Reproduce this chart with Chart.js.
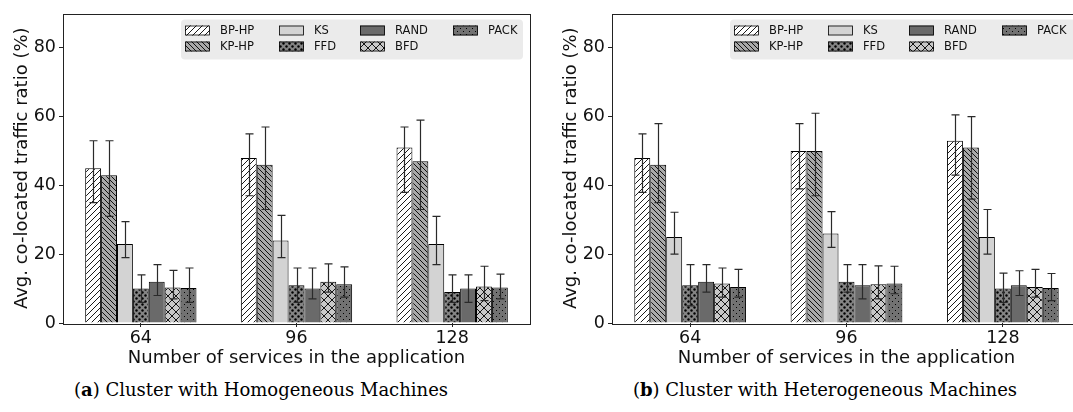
<!DOCTYPE html>
<html>
<head>
<meta charset="utf-8">
<script src="https://cdn.jsdelivr.net/npm/chart.js@4"></script>
<style>
  html, body { margin: 0; padding: 0; background: #fff; }
  body { width: 1073px; height: 412px; position: relative; overflow: hidden; }
  canvas { position: absolute; top: 0; }
  .cap { position: absolute; top: 379px; font-family: "DejaVu Serif", serif; font-size: 18px; color: #000; white-space: nowrap; transform: translateX(-50%); }
</style>
</head>
<body>
<canvas id="homo" width="536" height="372" style="left:0px"></canvas>
<canvas id="hetero" width="538" height="372" style="left:549px"></canvas>
<div class="cap" style="left:261px">(<b>a</b>) Cluster with Homogeneous Machines</div>
<div class="cap" style="left:825px">(<b>b</b>) Cluster with Heterogeneous Machines</div>
<script>
const categories = ['64', '96', '128'];
const seriesNames = ['BP-HP', 'KP-HP', 'KS', 'FFD', 'RAND', 'BFD', 'PACK'];
const yTicks = [0, 20, 40, 60, 80];

// rows follow seriesNames, columns follow categories
const homoMean = [
    [45, 48, 51],
    [43, 46, 47],
    [23, 24, 23],
    [10, 11, 9],
    [12, 10, 10],
    [10.3, 12, 10.6],
    [10.2, 11.3, 10.3]
];
const homoLow = [
    [35, 37, 38],
    [31, 33, 33],
    [19, 19, 17],
    [6, 6, 6],
    [8, 7, 6],
    [7, 9, 6.5],
    [6, 7.5, 7]
];
const homoHigh = [
    [53, 55, 57],
    [53, 57, 59],
    [29.5, 31.3, 31],
    [14, 16, 14],
    [17, 16, 14],
    [15.3, 17.2, 16.5],
    [16, 16.3, 14.2]
];

const heteroMean = [
    [48, 50, 53],
    [46, 50, 51],
    [25, 26, 25],
    [11, 12, 10],
    [12, 11, 11],
    [11.5, 11.3, 10.5],
    [10.5, 11.5, 10.2]
];
const heteroLow = [
    [38, 39, 43],
    [35, 37, 36],
    [20, 22, 20],
    [5, 9, 6],
    [9, 7, 8],
    [7.5, 7, 7.5],
    [7.5, 8.5, 6.5]
];
const heteroHigh = [
    [55, 58, 60.5],
    [58, 61, 60],
    [32.2, 32.4, 33],
    [17, 17, 14.5],
    [17, 17, 15.2],
    [16, 16.6, 15.6],
    [15.6, 16.5, 14.4]
];

const FONT = '"DejaVu Sans", sans-serif';

function makePattern(size, bg, drawFn) {
    const c = document.createElement('canvas');
    c.width = size;
    c.height = size;
    const g = c.getContext('2d');
    g.fillStyle = bg;
    g.fillRect(0, 0, size, size);
    g.strokeStyle = '#000';
    g.fillStyle = '#000';
    g.lineWidth = 0.9;
    drawFn(g, size);
    return g.createPattern(c, 'repeat');
}

function fills() {
    const fwd = makePattern(6, '#ffffff', (g, s) => {
        g.beginPath();
        g.moveTo(-1, s + 1); g.lineTo(s + 1, -1);
        g.moveTo(-1, 1); g.lineTo(1, -1);
        g.moveTo(s - 1, s + 1); g.lineTo(s + 1, s - 1);
        g.stroke();
    });
    const back = makePattern(5, '#a9a9a9', (g, s) => {
        g.beginPath();
        g.moveTo(-1, -1); g.lineTo(s + 1, s + 1);
        g.moveTo(s - 1, -1); g.lineTo(s + 1, 1);
        g.moveTo(-1, s - 1); g.lineTo(1, s + 1);
        g.stroke();
    });
    const bigDots = makePattern(6, '#848484', (g) => {
        g.beginPath(); g.arc(1.5, 1.5, 1.2, 0, Math.PI * 2); g.fill();
        g.beginPath(); g.arc(4.5, 4.5, 1.2, 0, Math.PI * 2); g.fill();
    });
    const cross = makePattern(8, '#c8c8c8', (g, s) => {
        g.beginPath();
        g.moveTo(0, 0); g.lineTo(s, s);
        g.moveTo(0, s); g.lineTo(s, 0);
        g.stroke();
    });
    const smallDots = makePattern(6, '#727272', (g) => {
        g.fillRect(1, 1, 1, 1);
        g.fillRect(4, 4, 1, 1);
    });
    return [fwd, back, '#d3d3d3', bigDots, '#6a6a6a', cross, smallDots];
}

const errorBars = {
    id: 'errorBars',
    afterDatasetsDraw(chart) {
        const ctx = chart.ctx;
        const y = chart.scales.y;
        ctx.save();
        ctx.strokeStyle = '#2a2a2a';
        ctx.lineWidth = 1.2;
        chart.data.datasets.forEach((ds, i) => {
            const meta = chart.getDatasetMeta(i);
            meta.data.forEach((bar, j) => {
                const lo = y.getPixelForValue(ds.errLow[j]);
                const hi = y.getPixelForValue(ds.errHigh[j]);
                const x = Math.round(bar.x) + 0.5;
                ctx.beginPath();
                ctx.moveTo(x, lo); ctx.lineTo(x, hi);
                ctx.moveTo(x - 4, lo); ctx.lineTo(x + 4, lo);
                ctx.moveTo(x - 4, hi); ctx.lineTo(x + 4, hi);
                ctx.stroke();
            });
        });
        ctx.restore();
    }
};

const frameAndLegend = {
    id: 'frameAndLegend',
    afterDraw(chart, args, opts) {
        const ctx = chart.ctx;
        const a = chart.chartArea;
        ctx.save();
        ctx.strokeStyle = '#222';
        ctx.lineWidth = 1;
        ctx.strokeRect(Math.round(a.left) + 0.5, Math.round(a.top) + 0.5,
            Math.round(a.right - a.left), Math.round(a.bottom - a.top));

        // legend box, column-major like matplotlib ncol=4
        const boxW = opts.boxWidth, boxH = 40;
        const bx = a.left + 118, by = a.top + 6;
        ctx.fillStyle = '#ebebeb';
        ctx.beginPath();
        ctx.roundRect(bx, by, boxW, boxH, 4);
        ctx.fill();
        const colX = [4, 98, 179, 272];
        const rowY = [11, 27];
        ctx.font = '11.5px ' + FONT;
        ctx.textBaseline = 'middle';
        chart.data.datasets.forEach((ds, i) => {
            const col = Math.floor(i / 2), row = i % 2;
            const sx = bx + colX[col], sy = by + rowY[row];
            ctx.fillStyle = ds.backgroundColor;
            ctx.fillRect(sx, sy - 5, 25, 10);
            ctx.strokeStyle = '#000';
            ctx.lineWidth = 0.8;
            ctx.strokeRect(sx + 0.5, sy - 4.5, 24, 9);
            ctx.fillStyle = '#111';
            ctx.fillText(ds.label, sx + 35, sy + 1);
        });
        ctx.restore();
    }
};

function buildChart(id, mean, low, high, legendWidth) {
    const canvas = document.getElementById(id);
    const pats = fills();
    return new Chart(canvas, {
        type: 'bar',
        data: {
            labels: categories,
            datasets: seriesNames.map((name, i) => ({
                label: name,
                data: mean[i],
                errLow: low[i],
                errHigh: high[i],
                backgroundColor: pats[i],
                borderColor: '#000',
                borderWidth: 1,
                categoryPercentage: 0.715,
                barPercentage: 1.0
            }))
        },
        options: {
            responsive: false,
            animation: false,
            devicePixelRatio: 1,
            layout: { padding: { top: 12, right: 6, left: 0, bottom: 0 } },
            plugins: {
                legend: { display: false },
                tooltip: { enabled: false },
                frameAndLegend: { boxWidth: legendWidth }
            },
            scales: {
                x: {
                    grid: { offset: false, drawOnChartArea: false, tickLength: 4, color: '#222' },
                    border: { display: false },
                    ticks: { color: '#111', font: { family: FONT, size: 17.5 }, padding: 1 },
                    title: {
                        display: true,
                        text: 'Number of services in the application',
                        color: '#111',
                        font: { family: FONT, size: 18 },
                        padding: { top: 0, bottom: 3 }
                    },
                    afterFit(scale) { scale.height = 49; }
                },
                y: {
                    min: 0,
                    max: 90,
                    afterBuildTicks(scale) { scale.ticks = yTicks.map(v => ({ value: v })); },
                    grid: { drawOnChartArea: false, tickLength: 4, color: '#222' },
                    border: { display: false },
                    ticks: { color: '#111', font: { family: FONT, size: 17.5 }, padding: 3 },
                    title: {
                        display: true,
                        text: 'Avg. co-located traffic ratio (%)',
                        color: '#111',
                        font: { family: FONT, size: 18 },
                        padding: { top: 12, bottom: 0 }
                    },
                    afterFit(scale) { scale.width = 63; }
                }
            }
        },
        plugins: [errorBars, frameAndLegend]
    });
}

buildChart('homo', homoMean, homoLow, homoHigh, 342);
buildChart('hetero', heteroMean, heteroLow, heteroHigh, 360);
</script>
</body>
</html>
